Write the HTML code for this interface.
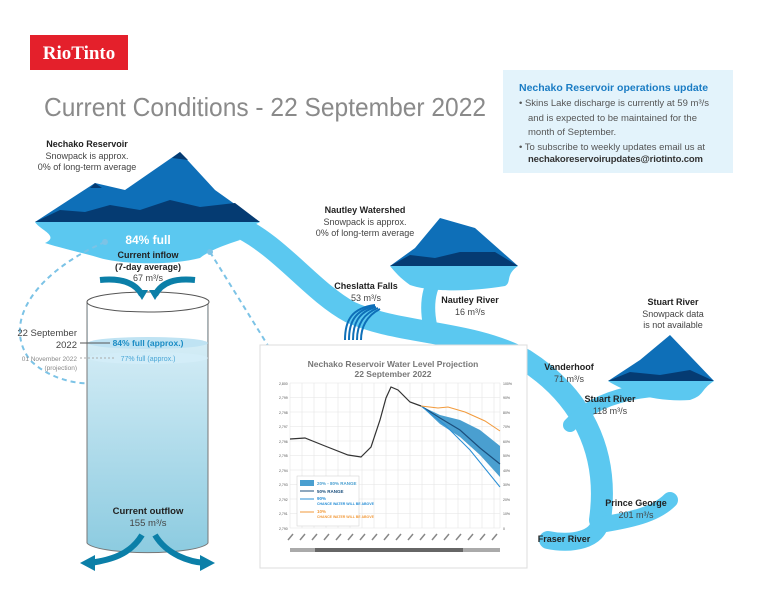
<!DOCTYPE html>
<html><head><meta charset="utf-8"><style>
html,body{margin:0;padding:0;background:#fff}
svg{display:block;font-family:"Liberation Sans",sans-serif}
</style></head><body>
<svg width="768" height="593" viewBox="0 0 768 593" xmlns="http://www.w3.org/2000/svg">
<defs>
<linearGradient id="cyl" x1="0" y1="0" x2="0" y2="1">
<stop offset="0" stop-color="#e2f3fa"/><stop offset="1" stop-color="#8ccbe0"/></linearGradient>
</defs>
<rect x="30" y="35" width="98" height="35" fill="#e4202b"/>
<text x="79" y="59" font-family="Liberation Serif,serif" font-size="19" fill="#fff" text-anchor="middle" font-weight="bold">RioTinto</text>
<text x="44" y="116" font-size="26" fill="#8a8a8a" textLength="442" lengthAdjust="spacingAndGlyphs">Current Conditions - 22 September 2022</text>
<rect x="503" y="70" width="230" height="103" fill="#e3f3fb"/>
<text x="519" y="91" font-size="10.5" font-weight="bold" fill="#1a7cc4">Nechako Reservoir operations update</text>
<g font-size="9.5" fill="#555">
<text x="519" y="106" textLength="190">•  Skins Lake discharge is currently at 59 m³/s</text>
<text x="528" y="121">and is expected to be maintained for the</text>
<text x="528" y="135">month of September.</text>
<text x="519" y="150" textLength="186">•  To subscribe to weekly updates email us at</text>
<text x="528" y="162" font-weight="bold" fill="#333" textLength="175">nechakoreservoirupdates@riotinto.com</text>
</g>
<g fill="none" stroke="#5bc8f0" stroke-linecap="round">
<path d="M235,225 C280,245 310,290 350,312 C400,335 470,330 525,360 C580,395 610,450 600,520" stroke-width="22"/>
<path d="M600,520 C600,540 570,545 548,540" stroke-width="18"/>
<path d="M600,525 C630,520 655,515 670,500" stroke-width="16"/>
<path d="M448,262 C430,280 425,300 430,325" stroke-width="14"/>
<path d="M695,388 C650,388 600,392 570,425" stroke-width="14"/>
</g>
<path d="M35,222 L260,222 C245,230 232,232 240,240 C225,245 210,250 200,258 C170,266 120,264 100,258 C80,252 60,248 45,243 C60,236 40,230 35,222z" fill="#5bc8f0"/>
<path d="M390,266 L518,266 C505,275 512,282 505,286 C470,292 430,292 410,285 C400,278 395,272 390,266z" fill="#5bc8f0"/>
<path d="M608,381 L714,381 C700,390 705,395 690,400 C660,402 630,395 608,381z" fill="#5bc8f0"/>
<path d="M35,222 L95,183 L125,190 L180,152 L215,190 L260,222z" fill="#0e6fb8"/>
<path d="M35,222 L60,210 L85,212 L110,205 L140,210 L170,200 L200,207 L235,203 L260,222z" fill="#053b72"/>
<path d="M172,158 L180,152 L188,160z M90,188 L95,183 L102,188z" fill="#053b72"/>
<path d="M390,266 L415,248 L440,218 L475,228 L518,266z" fill="#0e6fb8"/>
<path d="M390,266 L410,255 L435,258 L460,252 L495,252 L518,266z" fill="#053b72"/>
<path d="M608,381 L640,360 L670,335 L714,381z" fill="#0e6fb8"/>
<path d="M608,381 L630,372 L660,375 L690,370 L714,381z" fill="#053b72"/>
<g stroke="#0e6fb8" stroke-width="2" fill="none">
<path d="M345,340 C345,320 352,308 375,305"/><path d="M349,340 C349,322 355,310 375,306"/><path d="M353,340 C353,324 358,312 376,307"/><path d="M357,340 C357,326 362,314 378,308"/><path d="M361,340 C361,328 366,316 380,309"/>
</g>
<g font-size="9" fill="#444" text-anchor="middle">
<text x="87" y="147" font-weight="bold" fill="#222">Nechako Reservoir</text>
<text x="87" y="159">Snowpack is approx.</text><text x="87" y="170">0% of long-term average</text>
<text x="148" y="244" font-size="12" font-weight="bold" fill="#fff">84% full</text>
<text x="148" y="258" font-weight="bold" fill="#222">Current inflow</text>
<text x="148" y="270" font-weight="bold" fill="#222">(7-day average)</text>
<text x="148" y="281">67 m³/s</text>
<text x="365" y="213" font-weight="bold" fill="#222">Nautley Watershed</text>
<text x="365" y="225">Snowpack is approx.</text><text x="365" y="236">0% of long-term average</text>
<text x="366" y="289" font-weight="bold" fill="#222">Cheslatta Falls</text><text x="366" y="301">53 m³/s</text>
<text x="470" y="303" font-weight="bold" fill="#222">Nautley River</text><text x="470" y="315">16 m³/s</text>
<text x="673" y="305" font-weight="bold" fill="#222">Stuart River</text>
<text x="673" y="317">Snowpack data</text><text x="673" y="328">is not available</text>
<text x="569" y="370" font-weight="bold" fill="#222">Vanderhoof</text><text x="569" y="382">71 m³/s</text>
<text x="610" y="402" font-weight="bold" fill="#222">Stuart River</text><text x="610" y="414">118 m³/s</text>
<text x="636" y="506" font-weight="bold" fill="#222">Prince George</text><text x="636" y="518">201 m³/s</text>
<text x="564" y="542" font-weight="bold" fill="#222">Fraser River</text>
</g>
<g fill="none" stroke="#7cc3e6" stroke-width="2" stroke-dasharray="5,4">
<path d="M105,242 C40,270 0,320 30,360 C50,380 80,385 95,383"/>
<path d="M210,252 L280,365"/>
</g>
<circle cx="105" cy="242" r="3" fill="#7cc3e6"/><circle cx="96" cy="383" r="3" fill="#7cc3e6"/><circle cx="210" cy="252" r="3" fill="#7cc3e6"/><circle cx="280" cy="365" r="3" fill="#7cc3e6"/>
<path d="M87,302 L87,543 A61,11 0 0 0 208,543 L208,302z" fill="url(#cyl)" stroke="#777"/>
<rect x="88" y="302" width="119" height="40" fill="#fff"/>
<ellipse cx="148" cy="302" rx="61" ry="10" fill="#fff" stroke="#555"/>
<ellipse cx="148" cy="343" rx="60" ry="6" fill="#bfe3f3"/>
<ellipse cx="148" cy="358" rx="60" ry="6" fill="#d3edf8"/>
<text x="148" y="346" font-size="8.5" font-weight="bold" fill="#1a8cc4" text-anchor="middle">84% full (approx.)</text>
<text x="148" y="361" font-size="7" fill="#4aa6d6" text-anchor="middle">77% full (approx.)</text>
<line x1="80" y1="343" x2="110" y2="343" stroke="#555"/>
<line x1="80" y1="358" x2="115" y2="358" stroke="#aaa" stroke-dasharray="2,2"/>
<g text-anchor="end" fill="#444">
<text x="77" y="336" font-size="9.5">22 September</text><text x="77" y="348" font-size="9.5">2022</text>
<text x="77" y="361" font-size="6.5" fill="#888">01 November 2022</text><text x="77" y="370" font-size="6.5" fill="#888">(projection)</text>
</g>
<text x="148" y="514" font-size="9.5" font-weight="bold" fill="#222" text-anchor="middle">Current outflow</text>
<text x="148" y="526" font-size="9.5" fill="#444" text-anchor="middle">155 m³/s</text>
<g fill="none" stroke="#0b7fa8" stroke-width="6">
<path d="M142,535 C130,555 110,560 90,563"/><path d="M155,535 C167,555 190,562 205,563"/>
<path d="M100,280 C120,278 135,282 142,295"/><path d="M195,280 C175,278 162,282 155,295"/>
</g>
<path d="M80,563 L95,555 L95,571z M215,563 L200,555 L200,571z M142,300 L136,290 L148,290z M155,300 L149,290 L161,290z" fill="#0b7fa8"/>
<rect x="260" y="345" width="267" height="223" fill="#fff" stroke="#ddd"/>
<text x="393" y="367" font-size="8.5" font-weight="bold" fill="#777" text-anchor="middle">Nechako Reservoir Water Level Projection</text>
<text x="393" y="377" font-size="8.5" font-weight="bold" fill="#777" text-anchor="middle">22 September 2022</text>
<g stroke="#e4e4e4" stroke-width="0.6">
<path d="M290,383 H500 M290,397.5 H500 M290,412 H500 M290,426.5 H500 M290,441 H500 M290,455.5 H500 M290,470 H500 M290,484.5 H500 M290,499 H500 M290,513.5 H500 M290,528 H500"/>
<path d="M290,383V528 M302,383V528 M314,383V528 M326,383V528 M338,383V528 M350,383V528 M362,383V528 M374,383V528 M386,383V528 M398,383V528 M410,383V528 M422,383V528 M434,383V528 M446,383V528 M458,383V528 M470,383V528 M482,383V528 M494,383V528 M500,383V528"/>
</g>
<g font-size="3.5" fill="#555">
<text x="279" y="385">2,800</text><text x="279" y="399">2,799</text><text x="279" y="414">2,798</text><text x="279" y="428">2,797</text><text x="279" y="443">2,796</text><text x="279" y="457">2,795</text><text x="279" y="472">2,794</text><text x="279" y="486">2,793</text><text x="279" y="501">2,792</text><text x="279" y="515">2,791</text><text x="279" y="530">2,790</text>
<text x="503" y="385">100%</text><text x="503" y="399">90%</text><text x="503" y="414">80%</text><text x="503" y="428">70%</text><text x="503" y="443">60%</text><text x="503" y="457">50%</text><text x="503" y="472">40%</text><text x="503" y="486">30%</text><text x="503" y="501">20%</text><text x="503" y="515">10%</text><text x="503" y="530">0</text>
</g>
<g stroke="#888" stroke-width="1.5">
<path d="M288,540 l5,-6 M300,540 l5,-6 M312,540 l5,-6 M324,540 l5,-6 M336,540 l5,-6 M348,540 l5,-6 M360,540 l5,-6 M372,540 l5,-6 M384,540 l5,-6 M396,540 l5,-6 M408,540 l5,-6 M420,540 l5,-6 M432,540 l5,-6 M444,540 l5,-6 M456,540 l5,-6 M468,540 l5,-6 M480,540 l5,-6 M492,540 l5,-6"/>
</g>
<rect x="290" y="548" width="210" height="4" fill="#666"/><rect x="290" y="548" width="25" height="4" fill="#aaa"/><rect x="463" y="548" width="37" height="4" fill="#aaa"/>
<path d="M421,406 L440,415 L460,420 L480,430 L500,446 L500,477 L480,455 L460,437 L440,424z" fill="#4a9fd0"/>
<polyline points="421,406 440,418 460,430 480,448 500,464" fill="none" stroke="#1b4f7d" stroke-width="1.2"/>
<polyline points="421,406 445,425 470,450 500,487" fill="none" stroke="#2a8fd6" stroke-width="1"/>
<polyline points="421,406 438,408 448,407 465,412 485,421 500,431" fill="none" stroke="#f29a3b" stroke-width="1"/>
<polyline points="290,439 305,438 325,446 348,455 361,457 371,447 380,420 386,398 391,387 398,390 410,402 421,406" fill="none" stroke="#333" stroke-width="1.2"/>
<rect x="297" y="476" width="62" height="50" fill="#fff" stroke="#ccc" stroke-width="0.5"/>
<rect x="300" y="480" width="14" height="6" fill="#4a9fd0"/>
<line x1="300" y1="491" x2="314" y2="491" stroke="#1b4f7d"/><line x1="300" y1="499" x2="314" y2="499" stroke="#2a8fd6"/><line x1="300" y1="512" x2="314" y2="512" stroke="#f29a3b"/>
<g font-size="4.5" font-weight="bold"><text x="317" y="485" fill="#4a9fd0">20% - 80% RANGE</text><text x="317" y="493" fill="#1b4f7d">50% RANGE</text><text x="317" y="500" fill="#2a8fd6">90%</text><text x="317" y="505" fill="#2a8fd6" font-size="3.5">CHANCE WATER WILL BE ABOVE</text><text x="317" y="513" fill="#f29a3b">10%</text><text x="317" y="518" fill="#f29a3b" font-size="3.5">CHANCE WATER WILL BE ABOVE</text></g>
</svg>
</body></html>
